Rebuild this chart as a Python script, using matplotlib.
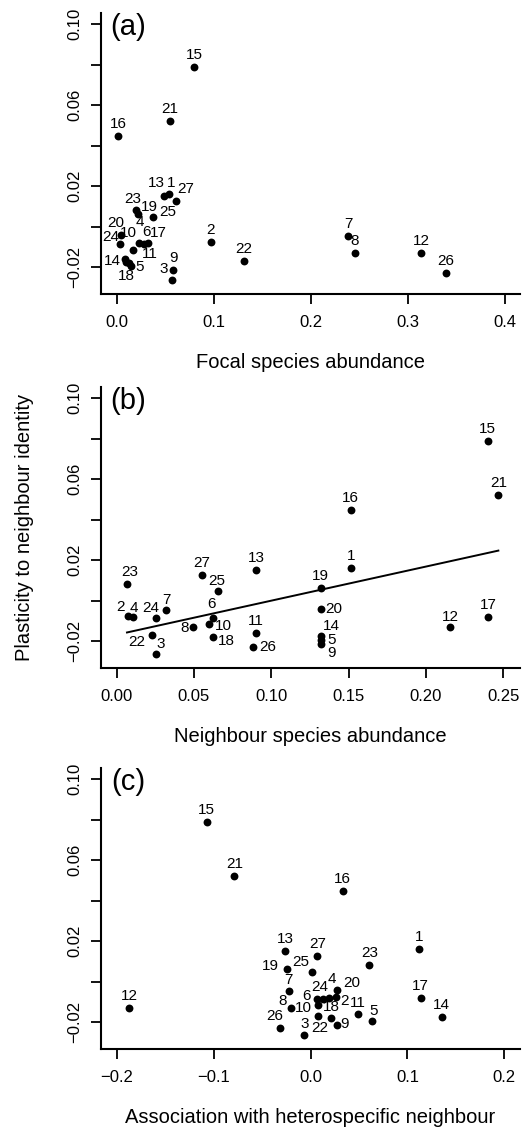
import numpy as np
import matplotlib
matplotlib.use("Agg")
import matplotlib.pyplot as plt

plt.rcParams['font.family'] = ['Liberation Sans', 'DejaVu Sans']

# species ids 1..27
species = list(range(1, 28))

# plasticity to neighbour identity (y, same for all panels)
plasticity = [0.0163, -0.0077, -0.0262, -0.0081, -0.0192, -0.0087, -0.0048,
              -0.0132, -0.0213, -0.0117, -0.0160, -0.0130, 0.0153, -0.0175,
              0.0787, 0.0448, -0.0080, -0.0180, 0.0065, -0.0040, 0.0520,
              -0.0169, 0.0084, -0.0087, 0.0050, -0.0227, 0.0128]

focal_abund = [0.0540, 0.0972, 0.0567, 0.0233, 0.0144, 0.0285, 0.2386,
               0.2455, 0.0584, 0.0165, 0.0086, 0.3135, 0.0490, 0.0096,
               0.0797, 0.0017, 0.0319, 0.0127, 0.0223, 0.0045, 0.0549,
               0.1315, 0.0196, 0.0034, 0.0371, 0.3392, 0.0608]

neigh_abund = [0.1513, 0.0071, 0.0252, 0.0103, 0.1319, 0.0623, 0.0317,
               0.0496, 0.1319, 0.0595, 0.0903, 0.2157, 0.0903, 0.1319,
               0.2399, 0.1513, 0.2403, 0.0625, 0.1319, 0.1319, 0.2468,
               0.0226, 0.0067, 0.0252, 0.0657, 0.0881, 0.0550]

assoc = [0.1116, 0.0263, -0.0064, 0.0191, 0.0631, 0.0064, -0.0218,
         -0.0205, 0.0270, 0.0081, 0.0490, -0.1869, -0.0260, 0.1353,
         -0.1071, 0.0332, 0.1137, 0.0215, -0.0242, 0.0277, -0.0786,
         0.0074, 0.0607, 0.0126, 0.0012, -0.0311, 0.0071]

# label offsets (pixels) from each dot, default is straight above
off_a = {1: (2, 11), 13: (-8, 13), 27: (10, 12), 23: (-3, 11), 19: (11, 7),
         25: (15, 5), 20: (-5, 12), 24: (-9, 7), 4: (1, 21), 10: (-4, 17),
         6: (2, 12), 17: (11, 10), 11: (25, 5), 14: (-13, 1), 18: (-2, -13),
         5: (9, -1), 3: (-8, 11)}
off_b = {23: (3, 12), 25: (-1, 10), 7: (1, 10), 20: (13, 0), 2: (-7, 9),
         4: (1, 9), 24: (-5, 10), 6: (-1, 14), 10: (15, -2), 8: (-9, -1),
         12: (0, 10), 22: (-15, -7), 18: (13, -4), 14: (11, 10), 5: (11, 0),
         9: (11, -9), 26: (15, 0), 3: (5, 10)}
off_c = {19: (-17, 3), 25: (-11, 10), 7: (-1, 11), 20: (14, 7), 4: (3, 19),
         24: (-3, 12), 6: (-10, 3), 2: (9, -4), 10: (-15, -3), 8: (-8, 7),
         18: (0, 11), 11: (0, 11), 5: (2, 10), 9: (8, 1), 26: (-6, 12),
         3: (0, 11), 22: (2, -12)}

fig = plt.figure(figsize=(5.25, 11.31), dpi=100)
W, H = 525.0, 1131.0
left, width, h = 101 / W, 419 / W, 280.5 / H
tops = [13.3, 387.3, 768.3]

yticks = np.round(np.arange(-0.02, 0.101, 0.02), 2)
ytlabels = ['\u22120.02', '', '0.02', '', '0.06', '', '0.10']


def panel(ax, x, offs, xlim, xticks, xtlabels, xlabel, tag):
    ax.scatter(x, plasticity, s=32, c='black', linewidths=0, zorder=3)
    for sp, xi, yi in zip(species, x, plasticity):
        dx, dy = offs.get(sp, (0, 12))
        ax.annotate(str(sp), (xi, yi), xytext=(dx, dy), textcoords='offset pixels',
                    ha='center', va='center', fontsize=11)
    ax.set_xlim(xlim)
    ax.set_ylim(-0.0331, 0.1054)
    ax.set_xticks(xticks)
    ax.set_xticklabels(xtlabels, fontsize=12)
    ax.set_yticks(yticks)
    ax.set_yticklabels(ytlabels, fontsize=12, rotation=90, va='center')
    for s in ['top', 'right']:
        ax.spines[s].set_visible(False)
    for s in ['left', 'bottom']:
        ax.spines[s].set_linewidth(1.5)
    ax.tick_params(length=7.5, width=1.3, pad=8)
    ax.tick_params(axis='y', pad=6)
    ax.set_xlabel(xlabel, fontsize=14.5)
    ax.xaxis.set_label_coords(0.5, -69 / 280.5)
    ax.xaxis.label.set_va('center')
    ax.text(0.064, 0.951, tag, transform=ax.transAxes, fontsize=21,
            ha='center', va='center')


axs = []
for t in tops:
    axs.append(fig.add_axes([left, 1 - (t + 280.5) / H, width, h]))

panel(axs[0], focal_abund, off_a, (-0.016, 0.4155), [0, 0.1, 0.2, 0.3, 0.4],
      ['0.0', '0.1', '0.2', '0.3', '0.4'], 'Focal species abundance', '(a)')
panel(axs[1], neigh_abund, off_b, (-0.0101, 0.2608),
      [0, 0.05, 0.10, 0.15, 0.20, 0.25],
      ['0.00', '0.05', '0.10', '0.15', '0.20', '0.25'],
      'Neighbour species abundance', '(b)')
panel(axs[2], assoc, off_c, (-0.2162, 0.2162), [-0.2, -0.1, 0, 0.1, 0.2],
      ['\u22120.2', '\u22120.1', '0.0', '0.1', '0.2'],
      'Association with heterospecific neighbour', '(c)')

# regression line in panel (b)
slope, intercept = np.polyfit(neigh_abund, plasticity, 1)
xl = np.array([min(neigh_abund), max(neigh_abund)])
axs[1].plot(xl, intercept + slope * xl, color='black', lw=1.4)

axs[1].set_ylabel('Plasticity to neighbour identity', fontsize=14.5)
axs[1].yaxis.set_label_coords(-76 / 419, 0.5)
axs[1].yaxis.label.set_va('center')

fig.savefig('out.png', dpi=100)
